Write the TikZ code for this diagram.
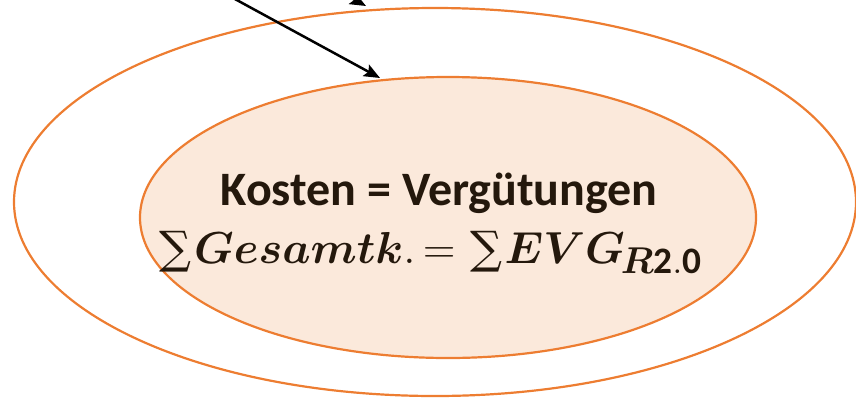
\documentclass[tikz,border=0pt]{standalone}
\usepackage{fontspec}
\usepackage{bm}
\usepackage{graphicx}
\setmainfont{Carlito}
\newfontfamily\sumfont{DejaVu Serif}
\newcommand{\bigsum}{\mbox{\sumfont ∑}}
\usetikzlibrary{shapes.geometric,arrows.meta}
\definecolor{ringorange}{HTML}{ED7D31}
\definecolor{ringfill}{HTML}{FBE9DB}
\definecolor{txtdark}{HTML}{24180C}
\tikzset{
  ring/.style={ellipse, draw=ringorange, line width=2.2pt, inner sep=0pt},
  pointer/.style={draw=black, line width=2.5pt, -{Stealth[length=16pt,width=13pt,inset=3pt]}},
  lbl/.style={text=txtdark, inner sep=0pt, anchor=base}
}
\begin{document}
\begin{tikzpicture}[x=1pt,y=-1pt]
\useasboundingbox (0,0) rectangle (856,397);
\clip (0,0) rectangle (856,397);
\node[ring, minimum width=842pt, minimum height=388pt] (outer) at (435,202) {};
\node[ring, fill=ringfill, minimum width=616pt, minimum height=281pt] (inner) at (448,217.5) {};
\node[lbl] (l1) at (439,205) {\fontsize{48}{56}\selectfont\bfseries Kosten = Vergütungen};
\node[lbl] (l2) at (431,263) {\scalebox{1.8}{\Huge$\bigsum\mskip1mu\bm{Gesamtk}\mathrm{.}\mskip-2mu=\mskip1mu\bigsum\mskip1mu\bm{EVG}_{\mskip-2mu\bm{R}\mathbf{2.0}}$}};
\coordinate (a1s) at (200,-20);
\coordinate (a1e) at (380,78);
\coordinate (a2s) at (190,-90);
\coordinate (a2e) at (366,6);
\draw[pointer] (a1s) -- (a1e);
\draw[pointer] (a2s) -- (a2e);
\end{tikzpicture}
\end{document}
